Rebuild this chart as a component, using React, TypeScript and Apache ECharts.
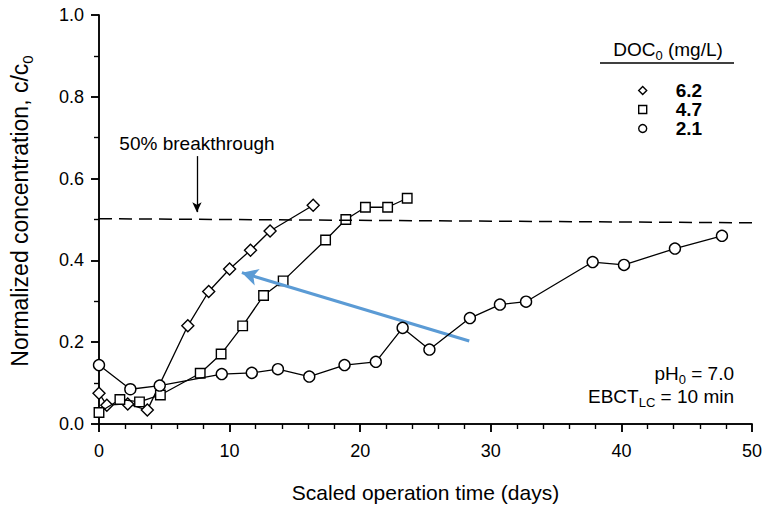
import React, { useEffect, useRef } from "react";
import * as echarts from "echarts";

// DOC0 = 6.2 mg/L (diamonds)
const diamondTime = [0, 0.6, 2.2, 3.7, 6.8, 8.4, 10.0, 11.6, 13.1, 16.4];
const diamondConc = [0.075, 0.046, 0.049, 0.034, 0.24, 0.324, 0.379, 0.425, 0.472, 0.535];
// DOC0 = 4.7 mg/L (squares)
const squareTime = [0, 1.6, 3.1, 4.7, 7.75, 9.35, 11.0, 12.6, 14.1, 17.35, 18.9, 20.4, 22.1, 23.6];
const squareConc = [0.028, 0.06, 0.054, 0.071, 0.124, 0.171, 0.24, 0.314, 0.35, 0.45, 0.5, 0.53, 0.53, 0.552];
// DOC0 = 2.1 mg/L (circles)
const circleTime = [0, 2.4, 4.65, 9.4, 11.7, 13.7, 16.1, 18.8, 21.2, 23.25, 25.3, 28.4, 30.7, 32.7, 37.8, 40.2, 44.1, 47.7];
const circleConc = [0.144, 0.085, 0.094, 0.122, 0.125, 0.134, 0.116, 0.144, 0.152, 0.235, 0.182, 0.259, 0.292, 0.299, 0.396, 0.389, 0.429, 0.46];

const seriesNames = ["6.2", "4.7", "2.1"];
const seriesSymbols = ["diamond", "rect", "circle"];
const symbolSizes = [12, 9.5, 11];

// Annotations (data units)
const breakthroughLevel = [0.502, 0.492]; // dashed 50% line, left and right end
const breakthroughArrow = { x: 7.5, from: 0.655, to: 0.518 };
const blueArrow = { from: [28.35, 0.203], to: [10.94, 0.37] };

const X_MIN = 0, X_MAX = 50, X_INT = 10;
const Y_MIN = 0, Y_MAX = 1, Y_INT = 0.2;

const FONT = "'Liberation Sans', Arial, Helvetica, sans-serif";
const BLACK = "#000";

function zip(xs: number[], ys: number[]) {
  return xs.map((x, i) => [x, ys[i]]);
}

export default function App() {
  const ref = useRef<HTMLDivElement>(null);
  useEffect(() => {
    if (!ref.current) return;
    const chart = echarts.init(ref.current, undefined, { renderer: "svg" });
    const axisLine = { show: true, lineStyle: { color: BLACK, width: 1.5 } };
    const baseX = {
      type: "value" as const,
      min: X_MIN,
      max: X_MAX,
      interval: X_INT,
      axisLine,
      splitLine: { show: false },
    };
    const baseY = {
      type: "value" as const,
      min: Y_MIN,
      max: Y_MAX,
      interval: Y_INT,
      axisLine,
      splitLine: { show: false },
    };
    const datasets = [
      zip(diamondTime, diamondConc),
      zip(squareTime, squareConc),
      zip(circleTime, circleConc),
    ];
    const series: any[] = datasets.map((d, i) => ({
      type: "line",
      name: seriesNames[i],
      data: d,
      symbol: seriesSymbols[i],
      symbolSize: symbolSizes[i],
      showAllSymbol: true,
      lineStyle: { color: BLACK, width: 1.3 },
      itemStyle: { color: "#fff", borderColor: BLACK, borderWidth: 1.4 },
      z: 3 + i,
    }));
    series[0].markLine = {
      silent: true,
      animation: false,
      label: { show: false },
      data: [
        [
          {
            coord: [X_MIN, breakthroughLevel[0]],
            symbol: "none",
            lineStyle: { color: BLACK, width: 1.5, type: [13, 7] },
          },
          { coord: [X_MAX, breakthroughLevel[1]], symbol: "none" },
        ],
        [
          {
            coord: [breakthroughArrow.x, breakthroughArrow.from],
            symbol: "none",
            lineStyle: { color: BLACK, width: 1.3, type: "solid" },
          },
          { coord: [breakthroughArrow.x, breakthroughArrow.to], symbol: "arrow", symbolSize: [7, 10] },
        ],
        [
          {
            coord: blueArrow.from,
            symbol: "none",
            lineStyle: { color: "#5b9bd5", width: 3, type: "solid" },
          },
          { coord: blueArrow.to, symbol: "arrow", symbolSize: [13, 16] },
        ],
      ],
    };

    const main = (size: number) => ({
      fontSize: size,
      fontFamily: FONT,
      color: BLACK,
      lineHeight: Math.round(size * 1.3),
    });
    const sub = (size: number) => ({
      fontSize: size,
      fontFamily: FONT,
      color: BLACK,
      verticalAlign: "bottom",
      lineHeight: size,
    });

    chart.setOption({
      animation: false,
      backgroundColor: "#fff",
      grid: { left: 99, right: 15, top: 15, bottom: 88, containLabel: false },
      xAxis: [
        {
          ...baseX,
          position: "bottom",
          axisTick: { show: true, length: 8, lineStyle: { color: BLACK, width: 1.5 } },
          minorTick: { show: true, splitNumber: 5, length: 5, lineStyle: { color: BLACK, width: 1.2 } },
          axisLabel: { fontSize: 18, color: BLACK, fontFamily: FONT, margin: 18 },
          name: "Scaled operation time (days)",
          nameLocation: "middle",
          nameGap: 58,
          nameTextStyle: { fontSize: 21, color: BLACK, fontFamily: FONT },
        },
        {
          ...baseX,
          position: "top",
          axisTick: { show: true, inside: true, length: 8, lineStyle: { color: BLACK, width: 1.5 } },
          minorTick: { show: true, splitNumber: 5, length: 5, lineStyle: { color: BLACK, width: 1.2 } },
          axisLabel: { show: false },
        },
      ],
      yAxis: [
        {
          ...baseY,
          position: "left",
          axisTick: { show: true, length: 8, lineStyle: { color: BLACK, width: 1.5 } },
          minorTick: { show: true, splitNumber: 2, length: 5, lineStyle: { color: BLACK, width: 1.2 } },
          axisLabel: {
            fontSize: 18,
            color: BLACK,
            fontFamily: FONT,
            margin: 15,
            formatter: (v: number) => v.toFixed(1),
          },
        },
        {
          ...baseY,
          position: "right",
          axisTick: { show: true, inside: true, length: 8, lineStyle: { color: BLACK, width: 1.5 } },
          minorTick: { show: true, splitNumber: 2, length: 5, lineStyle: { color: BLACK, width: 1.2 } },
          axisLabel: { show: false },
        },
      ],
      legend: {
        orient: "vertical",
        left: 633,
        top: 76,
        itemWidth: 8,
        itemHeight: 8,
        itemGap: 0,
        selectedMode: false,
        data: seriesNames.map((n, i) => ({ name: n, icon: seriesSymbols[i] })),
        itemStyle: { color: "#fff", borderColor: BLACK, borderWidth: 1.4 },
        textStyle: {
          fontSize: 19,
          fontWeight: "bold",
          color: BLACK,
          fontFamily: FONT,
          lineHeight: 18,
          padding: [0, 0, 0, 24],
        },
      },
      graphic: [
        {
          type: "text",
          x: 20,
          y: 211,
          rotation: Math.PI / 2,
          style: {
            text: "{a|Normalized concentration, c/c}{s|0}",
            align: "center",
            verticalAlign: "middle",
            rich: { a: main(23), s: sub(15) },
          },
        },
        {
          type: "text",
          x: 197,
          y: 143,
          style: {
            text: "50% breakthrough",
            fontSize: 19,
            fontFamily: FONT,
            fill: BLACK,
            align: "center",
            verticalAlign: "middle",
          },
        },
        {
          type: "text",
          x: 668,
          y: 49,
          style: {
            text: "{a|DOC}{s|0}{a| (mg/L)}",
            align: "center",
            verticalAlign: "middle",
            rich: { a: main(19), s: sub(13) },
          },
        },
        {
          type: "line",
          shape: { x1: 600, y1: 63, x2: 734, y2: 63 },
          style: { stroke: BLACK, lineWidth: 1.5 },
        },
        {
          type: "text",
          x: 734,
          y: 373,
          style: {
            text: "{a|pH}{s|0}{a| = 7.0}",
            align: "right",
            verticalAlign: "middle",
            rich: { a: main(19), s: sub(13) },
          },
        },
        {
          type: "text",
          x: 734,
          y: 396,
          style: {
            text: "{a|EBCT}{s|LC}{a| = 10 min}",
            align: "right",
            verticalAlign: "middle",
            rich: { a: main(19), s: sub(13) },
          },
        },
      ],
      series,
    });
    return () => chart.dispose();
  }, []);
  return <div ref={ref} style={{ width: 767, height: 512, position: "absolute", left: 0, top: 0 }} />;
}
